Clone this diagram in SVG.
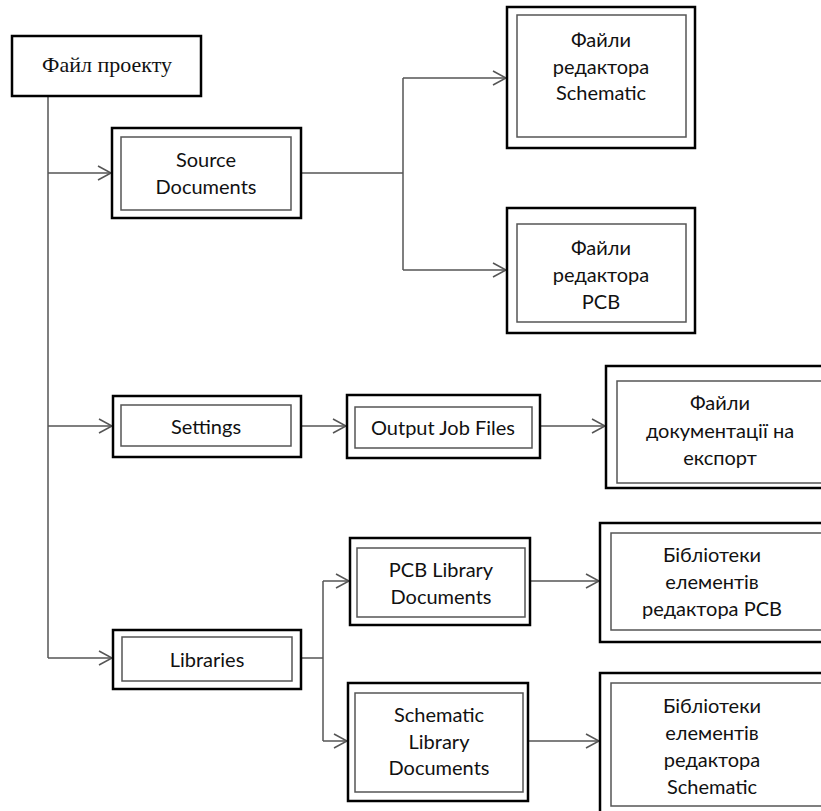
<svg xmlns="http://www.w3.org/2000/svg" width="821" height="811" viewBox="0 0 821 811">
<style>
.o{fill:#fff;stroke:#000;stroke-width:2.5}
.i{fill:none;stroke:#555;stroke-width:1.5}
.t{font-family:Lato,"Noto Sans",sans-serif;font-size:20px;fill:#111;text-anchor:middle;dominant-baseline:central}
.c{fill:none;stroke:#555;stroke-width:1.5}
</style>
<defs>
<marker id="a" markerWidth="16" markerHeight="16" refX="14" refY="8" orient="auto" markerUnits="userSpaceOnUse">
<path d="M1,1 L14,8 L1,15" fill="none" stroke="#555" stroke-width="1.5"/>
</marker>
</defs>
<rect width="821" height="811" fill="#fff"/>
<g id="connectors">
<path class="c" d="M48,96 V658"/>
<path class="c" d="M48,173 H111" marker-end="url(#a)"/>
<path class="c" d="M48,426 H112" marker-end="url(#a)"/>
<path class="c" d="M48,658 H112" marker-end="url(#a)"/>
<path class="c" d="M301,173 H403"/>
<path class="c" d="M403,78 V270"/>
<path class="c" d="M403,78 H506" marker-end="url(#a)"/>
<path class="c" d="M403,270 H506" marker-end="url(#a)"/>
<path class="c" d="M301,426 H346" marker-end="url(#a)"/>
<path class="c" d="M540,426 H605" marker-end="url(#a)"/>
<path class="c" d="M301,658 H323"/>
<path class="c" d="M323,581 V741"/>
<path class="c" d="M323,581 H349" marker-end="url(#a)"/>
<path class="c" d="M323,741 H347" marker-end="url(#a)"/>
<path class="c" d="M530,581 H599" marker-end="url(#a)"/>
<path class="c" d="M528,741 H599" marker-end="url(#a)"/>
</g>
<g id="project">
<rect class="o" x="12" y="36" width="189" height="60"/>
<text x="107" y="64" style="font-family:'Liberation Serif',serif;font-size:22px;fill:#111;text-anchor:middle;dominant-baseline:central">Файл проекту</text>
</g>
<g id="source">
<rect class="o" x="112" y="128" width="189" height="90"/>
<rect class="i" x="121" y="137" width="170" height="73"/>
<text class="t" x="206" y="159">Source</text>
<text class="t" x="206" y="186">Documents</text>
</g>
<g id="sch-files">
<rect class="o" x="507" y="7" width="188" height="141"/>
<rect class="i" x="517" y="15" width="169" height="122"/>
<text class="t" x="601" y="39">Файли</text>
<text class="t" x="601" y="66">редактора</text>
<text class="t" x="601" y="92">Schematic</text>
</g>
<g id="pcb-files">
<rect class="o" x="507" y="208" width="188" height="125"/>
<rect class="i" x="517" y="224" width="169" height="98"/>
<text class="t" x="601" y="247">Файли</text>
<text class="t" x="601" y="274">редактора</text>
<text class="t" x="601" y="301">PCB</text>
</g>
<g id="settings">
<rect class="o" x="113" y="396" width="188" height="61"/>
<rect class="i" x="121" y="405" width="170" height="41"/>
<text class="t" x="206" y="426">Settings</text>
</g>
<g id="output-job">
<rect class="o" x="347" y="395" width="193" height="63"/>
<rect class="i" x="355" y="407" width="177" height="41"/>
<text class="t" x="443" y="427">Output Job Files</text>
</g>
<g id="export">
<rect class="o" x="606" y="366" width="230" height="122"/>
<rect class="i" x="617" y="381" width="210" height="102"/>
<text class="t" x="720" y="402">Файли</text>
<text class="t" x="720" y="430">документації на</text>
<text class="t" x="720" y="457">експорт</text>
</g>
<g id="libraries">
<rect class="o" x="113" y="630" width="188" height="59"/>
<rect class="i" x="122" y="637" width="170" height="44"/>
<text class="t" x="207" y="659">Libraries</text>
</g>
<g id="pcb-lib">
<rect class="o" x="350" y="538" width="180" height="87"/>
<rect class="i" x="357" y="548" width="168" height="69"/>
<text class="t" x="441" y="569">PCB Library</text>
<text class="t" x="441" y="596">Documents</text>
</g>
<g id="sch-lib">
<rect class="o" x="348" y="683" width="180" height="118"/>
<rect class="i" x="355" y="693" width="168" height="99"/>
<text class="t" x="439" y="714">Schematic</text>
<text class="t" x="439" y="741">Library</text>
<text class="t" x="439" y="767">Documents</text>
</g>
<g id="pcb-libs">
<rect class="o" x="600" y="523" width="236" height="119"/>
<rect class="i" x="611" y="533" width="216" height="97"/>
<text class="t" x="712" y="554">Бібліотеки</text>
<text class="t" x="712" y="581">елементів</text>
<text class="t" x="712" y="608">редактора PCB</text>
</g>
<g id="sch-libs">
<rect class="o" x="600" y="673" width="236" height="150"/>
<rect class="i" x="611" y="683" width="216" height="123"/>
<text class="t" x="712" y="705">Бібліотеки</text>
<text class="t" x="712" y="732">елементів</text>
<text class="t" x="712" y="759">редактора</text>
<text class="t" x="712" y="786">Schematic</text>
</g>
</svg>
